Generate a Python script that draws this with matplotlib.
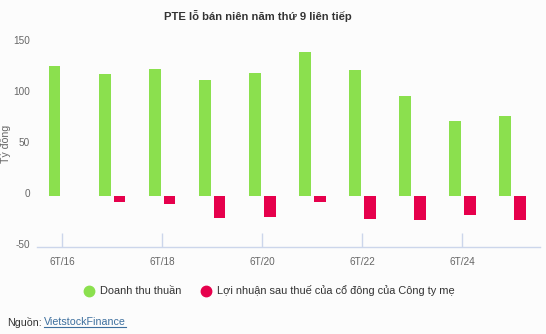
import matplotlib
matplotlib.use("Agg")
import matplotlib.pyplot as plt
from matplotlib.lines import Line2D
from matplotlib.transforms import ScaledTranslation
import numpy as np

plt.rcParams['font.family'] = ['Liberation Sans', 'DejaVu Sans']

# Half-year periods and values (billion VND)
categories = ["6T/16", "6T/17", "6T/18", "6T/19", "6T/20",
              "6T/21", "6T/22", "6T/23", "6T/24", "6T/25"]
revenue = [127.5, 119.5, 124.5, 113.5, 121.0, 141.0, 123.5, 98.0, 73.5, 78.5]
parent_profit = [0.0, -5.9, -7.5, -21.9, -20.9, -5.9, -22.5, -23.5, -18.3, -23.5]
revenue_label = "Doanh thu thuần"
profit_label = "Lợi nhuận sau thuế của cổ đông của Công ty mẹ"
y_ticks = [-50, 0, 50, 100, 150]

GREEN = "#8be04e"
RED = "#e6004c"
BG = "#fcfcfc"
AXIS = "#ccd6eb"
LINK = "#3d6f9e"

W, H = 546, 334
fig = plt.figure(figsize=(W / 100, H / 100), dpi=100, facecolor=BG)

left, right, top, bottom = 37, 540, 43, 247
ax = fig.add_axes([left / W, 1 - bottom / H, (right - left) / W, (bottom - top) / H])
ax.set_facecolor(BG)

x = np.arange(len(categories))
bw = 0.235
off = 0.148
ax.bar(x - off, revenue, width=bw, color=GREEN, linewidth=0)
ax.bar(x + off, parent_profit, width=bw, color=RED, linewidth=0)

ax.set_xlim(-0.5, len(categories) - 0.45)
ax.set_ylim(-50, 150)

for s in ["top", "right", "left"]:
    ax.spines[s].set_visible(False)
ax.spines["bottom"].set_color(AXIS)
ax.spines["bottom"].set_linewidth(1)

ax.set_xticks(x[::2])
ax.set_xticklabels(categories[::2])
ax.tick_params(axis="x", direction="in", length=10, width=1, color=AXIS,
               labelsize=7.2, labelcolor="#666666", pad=7)
ax.set_yticks(y_ticks)
ax.set_yticklabels([str(v) for v in y_ticks])
ax.tick_params(axis="y", length=0, labelsize=7.2, labelcolor="#666666", pad=5)
lift = ScaledTranslation(0, 3 / 100, fig.dpi_scale_trans)
for lbl in ax.get_yticklabels():
    lbl.set_transform(lbl.get_transform() + lift)

fig.text(5.5 / W, 1 - 144 / H, "Tỷ đồng", rotation=90, ha="center", va="center",
         fontsize=7.6, color="#666666")

fig.text(257.5 / W, 1 - 16 / H, "PTE lỗ bán niên năm thứ 9 liên tiếp",
         ha="center", va="center", fontsize=8.1, fontweight="bold", color="#333333")

handles = [
    Line2D([], [], marker="o", linestyle="none", markersize=7.5,
           markerfacecolor=GREEN, markeredgecolor=GREEN),
    Line2D([], [], marker="o", linestyle="none", markersize=7.5,
           markerfacecolor=RED, markeredgecolor=RED),
]
fig.legend(handles, [revenue_label, profit_label], loc="center",
           bbox_to_anchor=(269.5 / W, 1 - 291 / H), ncol=2, frameon=False,
           fontsize=7.9, labelcolor="#333333", handlelength=0.8,
           handletextpad=0.6, columnspacing=1.8)

fig.text(7 / W, 1 - 322 / H, "Nguồn:", ha="left", va="center",
         fontsize=7.7, color="#333333")
link = fig.text(43.7 / W, 1 - 322 / H, "VietstockFinance", ha="left", va="center",
                fontsize=7.7, color=LINK)
fig.canvas.draw()
bb = link.get_window_extent()
fig.add_artist(Line2D([bb.x0 / W, bb.x1 / W], [(bb.y0 + 0.5) / H, (bb.y0 + 0.5) / H],
                      color=LINK, linewidth=0.8, transform=fig.transFigure))

fig.savefig("out.png", dpi=100, facecolor=BG)
